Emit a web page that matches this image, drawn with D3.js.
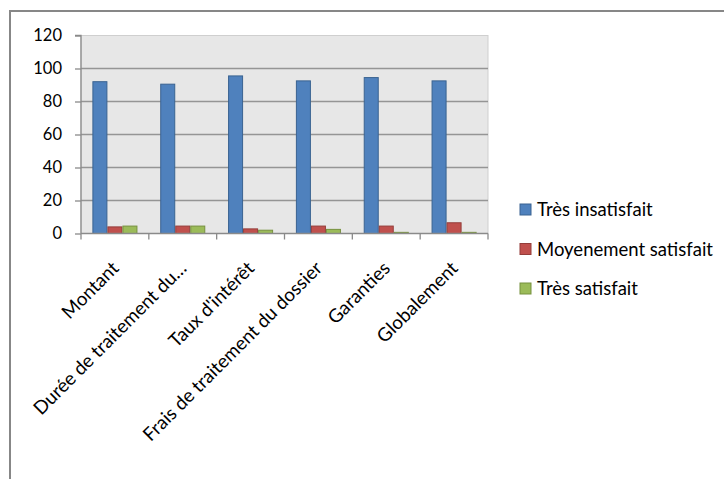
<!DOCTYPE html>
<html><head><meta charset="utf-8">
<script src="https://cdn.jsdelivr.net/npm/d3@7/dist/d3.min.js"></script>
<style>body{margin:0;background:#fff}svg{display:block}text{font-family:Lato,"Open Sans",sans-serif;fill:#000}</style>
</head><body><svg id="c" width="724" height="479"></svg>
<script>
const categories = ["Montant","Durée de traitement du…","Taux d'intérêt","Frais de traitement du dossier","Garanties","Globalement"];
const seriesNames = ["Très insatisfait","Moyenement satisfait","Très satisfait"];
const tresInsatisfait = [92,90.5,95.5,92.5,94.5,92.5];
const moyenementSatisfait = [4,4.5,2.8,4.5,4.5,6.5];
const tresSatisfait = [4.5,4.5,2,2.5,0.7,0.7];
const yTicks = [0,20,40,60,80,100,120];

const seriesValues = [tresInsatisfait, moyenementSatisfait, tresSatisfait];
const fills = ["#4F81BD","#C0504D","#9BBB59"];
const strokes = ["#3A6391","#943D3A","#77913F"];

const svg = d3.select("#c");
const L=81, R=488, T=35.5, B=233.5;
const fsTick = 16.5, fsCat = 18.8, fsLeg = 18.5;

// outer frame
svg.append("path").attr("d","M10,480 V11 H724").attr("fill","none").attr("stroke","#878787").attr("stroke-width",2);

const x = d3.scaleBand().domain(categories).range([L,R]).paddingInner(0.336).paddingOuter(0.168);
const x1 = d3.scaleBand().domain(seriesNames).range([0,x.bandwidth()]);
const y = d3.scaleLinear().domain([0,120]).range([B,T]);

svg.append("rect").attr("x",L).attr("y",T).attr("width",R-L).attr("height",B-T).attr("fill","#E7E7E7").attr("stroke","#CFCFCF").attr("stroke-width",1);

// gridlines
svg.append("g").selectAll("line").data(yTicks.filter(t=>t>0&&t<120)).join("line")
  .attr("x1",L).attr("x2",R).attr("y1",d=>y(d)).attr("y2",d=>y(d))
  .attr("stroke","#959595").attr("stroke-width",1.3);

// bars
categories.forEach((c,i)=>{
  seriesValues.forEach((vals,s)=>{
    svg.append("rect")
      .attr("x",x(c)+x1(seriesNames[s])+0.5)
      .attr("y",y(vals[i]))
      .attr("width",x1.bandwidth()-1)
      .attr("height",B-y(vals[i]))
      .attr("fill",fills[s]).attr("stroke",strokes[s]).attr("stroke-width",1);
  });
});

// y axis
const yAxis = d3.axisLeft(y).tickValues(yTicks).tickSize(6).tickPadding(13);
const gy = svg.append("g").attr("transform",`translate(${L},0)`).call(yAxis);
gy.select(".domain").attr("stroke","#8A8A8A").attr("stroke-width",1.3).attr("d",`M-6,${T}H0V${B}`);
gy.selectAll(".tick line").attr("stroke","#8A8A8A").attr("stroke-width",1.3);
gy.selectAll(".tick text").style("font-family","Lato").style("font-size",fsTick+"px").attr("fill","#000");

// x axis line and ticks between categories
const xAxis = d3.axisBottom(x).tickSize(0).tickFormat("");
const gx = svg.append("g").attr("transform",`translate(0,${B})`).call(xAxis);
gx.select(".domain").attr("stroke","#8A8A8A").attr("stroke-width",1.3).attr("d",`M${L},0H${R}`);
const boundaries = d3.range(categories.length+1).map(i=>L+i*(R-L)/categories.length);
gx.selectAll(".sep").data(boundaries).join("line").attr("class","sep")
  .attr("x1",d=>d).attr("x2",d=>d).attr("y1",0).attr("y2",6)
  .attr("stroke","#8A8A8A").attr("stroke-width",1.3);

// rotated category labels
svg.append("g").selectAll("text").data(categories).join("text")
  .attr("transform",d=>`translate(${x(d)+x.bandwidth()/2+5},${B+36}) rotate(-45)`)
  .attr("text-anchor","end").style("font-size",fsCat+"px").text(d=>d);

// legend
const lg = svg.append("g");
seriesNames.forEach((n,i)=>{
  const by = 216 + i*39.5;
  lg.append("rect").attr("x",520).attr("y",by-12).attr("width",11).attr("height",11)
    .attr("fill",fills[i]).attr("stroke",strokes[i]).attr("stroke-width",1);
  lg.append("text").attr("x",537).attr("y",by).style("font-size",fsLeg+"px").text(n);
});
</script></body></html>
